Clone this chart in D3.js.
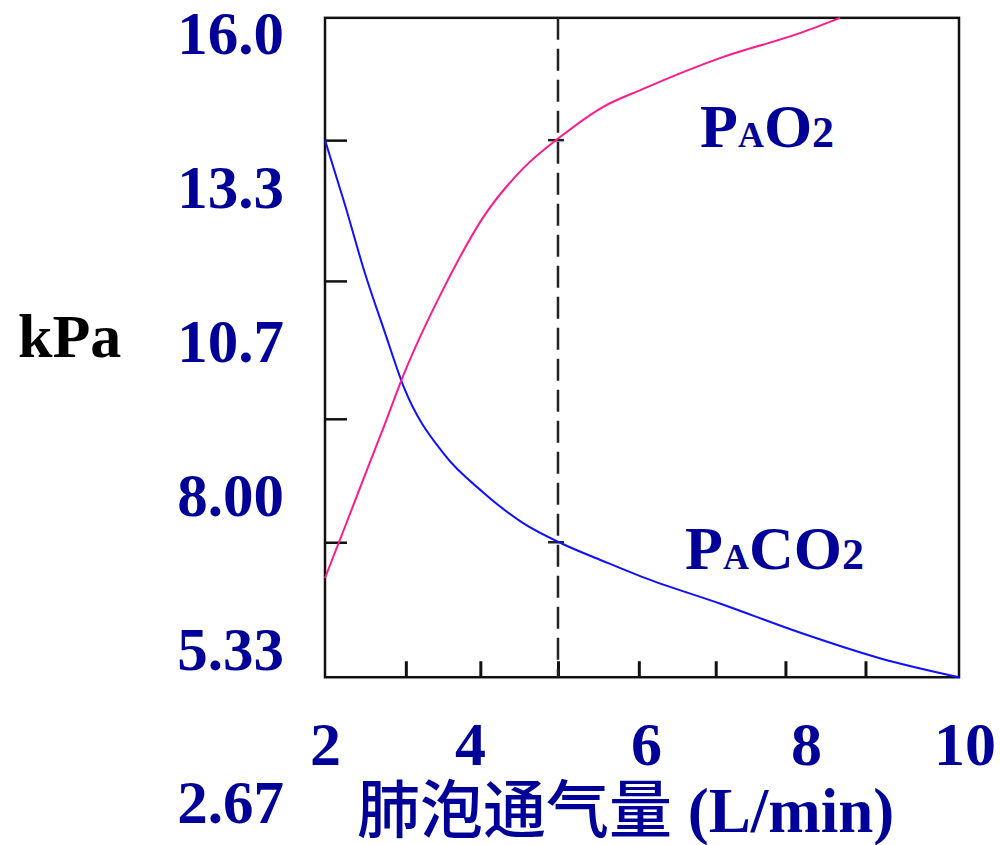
<!DOCTYPE html>
<html>
<head>
<meta charset="utf-8">
<script src="https://cdn.jsdelivr.net/npm/d3@7"></script>
<style>
  html, body { margin: 0; padding: 0; background: #fff; }
  svg { display: block; }
</style>
</head>
<body>
<svg id="chart" width="1000" height="845"></svg>
<script>
// ---- data ----
const ventilation = [2, 2.25, 2.5, 2.75, 3, 3.5, 4, 4.5, 5, 5.5, 6, 7, 8, 9, 10];
const paco2 = [14.16, 13.05, 11.87, 10.85, 9.86, 8.72, 8.05, 7.52, 7.16, 6.87, 6.59, 6.12, 5.62, 5.18, 4.85];
const pao2X = [2, 2.25, 2.5, 2.75, 3, 3.5, 4, 4.5, 5, 5.5, 6, 7, 8, 8.5];
const pao2 = [6.57, 7.45, 8.34, 9.22, 10.12, 11.60, 12.83, 13.67, 14.25, 14.73, 15.04, 15.59, 16.02, 16.28];

const yTickValues = [16.0, 13.33, 10.67, 8.0, 5.33, 2.67];
const yTickLabels = ["16.0", "13.3", "10.7", "8.00", "5.33", "2.67"];
const xLabelAt = [2, 3.83, 6.05, 8.07, 10.07];
const xTickLabels = ["2", "4", "6", "8", "10"];
const xMinorTicks = [3.02, 3.96, 4.94, 5.96, 6.93, 7.81, 8.82];
const yMinorTicks = [14.16, 11.72, 9.33, 7.19];
const xFrame = [2, 10];
const yFrame = [4.85, 16.28];
const normalVentilation = 4.94;
const crossValues = [14.16, 7.19];

// ---- scales ----
const x = d3.scaleLinear().domain([2, 10]).range([325, 959]);
const y = d3.scaleLinear().domain([2.67, 16.0]).range([803, 34]);

const svg = d3.select("#chart");
const navy = "#000099";
const serif = "'Liberation Serif', 'Times New Roman', serif";

// frame
svg.append("rect")
  .attr("x", x(xFrame[0])).attr("y", y(yFrame[1]))
  .attr("width", x(xFrame[1]) - x(xFrame[0]))
  .attr("height", y(yFrame[0]) - y(yFrame[1]))
  .attr("fill", "none").attr("stroke", "#111").attr("stroke-width", 2.5);

// inner ticks bottom
const bottomTicks = svg.append("g")
  .attr("transform", `translate(0,${y(yFrame[0])})`)
  .call(d3.axisBottom(x).tickValues(xMinorTicks).tickSize(-16).tickFormat(""));
bottomTicks.select(".domain").remove();
bottomTicks.selectAll("line").attr("stroke", "#111").attr("stroke-width", 3);

// inner ticks left
const leftTicks = svg.append("g")
  .attr("transform", `translate(${x(xFrame[0])},0)`)
  .call(d3.axisLeft(y).tickValues(yMinorTicks).tickSize(-22).tickFormat(""));
leftTicks.select(".domain").remove();
leftTicks.selectAll("line").attr("stroke", "#111").attr("stroke-width", 2.5);

// dashed reference line
svg.append("line")
  .attr("x1", x(normalVentilation)).attr("x2", x(normalVentilation))
  .attr("y1", y(yFrame[1])).attr("y2", y(yFrame[0]))
  .attr("stroke", "#222").attr("stroke-width", 2.5)
  .attr("stroke-dasharray", "22,9");

svg.selectAll(".cross").data(crossValues).enter().append("line")
  .attr("x1", x(normalVentilation) - 10).attr("x2", x(normalVentilation) + 6)
  .attr("y1", d => y(d)).attr("y2", d => y(d))
  .attr("stroke", "#222").attr("stroke-width", 2.5);

// curves
const line = d3.line().curve(d3.curveMonotoneX);
svg.append("path")
  .attr("d", line(ventilation.map((v, i) => [x(v), y(paco2[i])])))
  .attr("fill", "none").attr("stroke", "#1010ff").attr("stroke-width", 2);
svg.append("path")
  .attr("d", line(pao2X.map((v, i) => [x(v), y(pao2[i])])))
  .attr("fill", "none").attr("stroke", "#ff1a8c").attr("stroke-width", 2);

// y labels
const yAxis = svg.append("g")
  .attr("transform", "translate(284,0)")
  .call(d3.axisLeft(y).tickValues(yTickValues)
    .tickFormat((d, i) => yTickLabels[i]).tickSize(0).tickPadding(0));
yAxis.select(".domain").remove();
yAxis.selectAll("text")
  .attr("font-family", serif).attr("font-weight", "bold")
  .attr("font-size", 61).attr("fill", navy);

// x labels
const xAxis = svg.append("g")
  .attr("transform", "translate(0,721)")
  .call(d3.axisBottom(x).tickValues(xLabelAt)
    .tickFormat((d, i) => xTickLabels[i]).tickSize(0).tickPadding(0));
xAxis.select(".domain").remove();
xAxis.selectAll("text")
  .attr("font-family", serif).attr("font-weight", "bold")
  .attr("font-size", 62).attr("fill", navy);

// kPa
svg.append("text").attr("x", 18).attr("y", 357)
  .attr("font-family", serif).attr("font-weight", "bold")
  .attr("font-size", 62).attr("fill", "#000").text("kPa");

// x title
const title = svg.append("text").attr("x", 357).attr("y", 832)
  .attr("font-family", serif).attr("font-weight", "bold")
  .attr("font-size", 63).attr("fill", navy);
title.append("tspan").attr("font-family", "'Noto Sans CJK SC', sans-serif")
  .attr("font-weight", 500).text("肺泡通气量");
title.append("tspan").text(" (L/min)");

// series labels
function seriesLabel(xp, yp, parts) {
  const t = svg.append("text").attr("x", xp).attr("y", yp)
    .attr("font-family", serif).attr("font-weight", "bold").attr("fill", navy);
  parts.forEach(p => t.append("tspan").attr("font-size", p[1]).text(p[0]));
}
seriesLabel(700, 147, [["P", 62], ["A", 36], ["O", 62], ["2", 44]]);
seriesLabel(685, 569, [["P", 62], ["A", 36], ["C", 62], ["O", 62], ["2", 44]]);
</script>
</body>
</html>
